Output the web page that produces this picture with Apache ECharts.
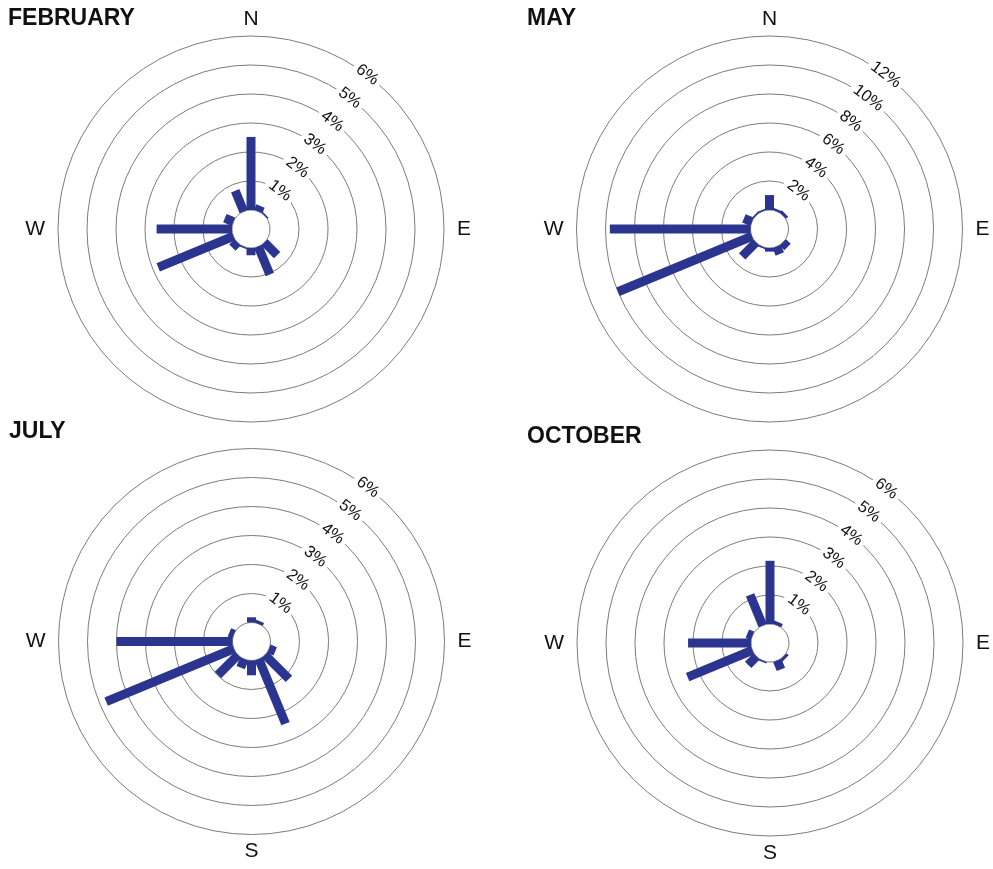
<!DOCTYPE html>
<html>
<head>
<meta charset="utf-8">
<script src="https://cdn.jsdelivr.net/npm/echarts@6/dist/echarts.min.js"></script>
<style>
  html, body { margin: 0; padding: 0; background: #fff; }
  #chart { width: 993px; height: 869px; }
</style>
</head>
<body>
<div id="chart"></div>
<script>
// Sixteen compass directions (degrees clockwise from north)
const directions = ['N','NNE','NE','ENE','E','ESE','SE','SSE','S','SSW','SW','WSW','W','WNW','NW','NNW'];
const directionAngles = [0,22.5,45,67.5,90,112.5,135,157.5,180,202.5,225,247.5,270,292.5,315,337.5];

// Frequency (% of time) the wind blows from each direction
const february = [2.52, 0.20, 0.05, 0, 0, 0, 0.62, 1.04, 0.25, 0.05, 0.25, 2.81, 2.60, 0.32, 0, 0.77];
const may      = [1.03, 0.15, 0.20, 0, 0, 0, 0.45, 0.55, 0.25, 0.10, 1.36, 10.0, 9.70, 0.60, 0.10, 0.10];
const july     = [0.18, 0.10, 0, 0, 0, 0.23, 1.17, 2.41, 0.51, 0.32, 0.98, 4.77, 4.00, 0.17, 0, 0];
const october  = [2.18, 0.12, 0, 0, 0, 0, 0.10, 0.33, 0, 0.05, 0.41, 2.42, 2.17, 0.19, 0, 1.14];

const monthNames = ['FEBRUARY', 'MAY', 'JULY', 'OCTOBER'];
const monthValues = [february, may, july, october];

// Ring scale per panel (percent)
const ringMax  = [6, 12, 6, 6];
const ringStep = [1, 2, 1, 1];

// Compass letters and which ones each panel shows
const compassAngles = [0, 90, 180, 270];
const compassLetters = ['N', 'E', 'S', 'W'];
const shownLetters = [['N','E','W'], ['N','E','W'], ['E','S','W'], ['E','S','W']];

// ---- layout ----
const centers = [[251, 229], [769.5, 229], [251.5, 641.5], [770, 643]];
const INNER = 19, OUTER = 193;
const titlePos = [[8, 7], [527, 7], [9, 420], [527, 425]];
const LABEL_ANGLE = 37;           // tick labels sit 37° clockwise from north
const BAR_COLOR = '#2b3590';
const BAR_HALF = 4.5;
const RING_COLOR = '#7c7c7c';
const FONT = "'Liberation Sans', Arial, Helvetica, sans-serif";

const chart = echarts.init(document.getElementById('chart'), null, { renderer: 'canvas' });

function renderBar(params, api) {
  const v = api.value(0), a = api.value(1);
  if (!v) return null;
  const p0 = api.coord([0, a]);
  const p1 = api.coord([v, a]);
  const dx = p1[0] - p0[0], dy = p1[1] - p0[1];
  const len = Math.hypot(dx, dy) || 1;
  const nx = -dy / len * BAR_HALF, ny = dx / len * BAR_HALF;
  return {
    type: 'polygon',
    shape: { points: [
      [p0[0] + nx, p0[1] + ny], [p1[0] + nx, p1[1] + ny],
      [p1[0] - nx, p1[1] - ny], [p0[0] - nx, p0[1] - ny]
    ] },
    style: { fill: BAR_COLOR }
  };
}

const polar = [], angleAxis = [], radiusAxis = [], series = [], title = [];

monthNames.forEach((name, i) => {
  const c = centers[i];
  // polar used by the bars and compass letters
  polar.push({ center: c, radius: [INNER, OUTER] });
  // polar used by the rings and their percentage labels
  polar.push({ center: c, radius: [INNER, OUTER] });

  const shown = shownLetters[i];
  angleAxis.push({
    polarIndex: 2 * i, type: 'value', min: 0, max: 360, interval: 90,
    startAngle: 90, clockwise: true,
    axisLine: { show: false }, axisTick: { show: false }, splitLine: { show: false },
    axisLabel: {
      show: true, margin: 13, lineHeight: 8, color: '#111', fontSize: 21, fontFamily: FONT,
      formatter: (v) => {
        const k = compassAngles.indexOf(v);
        if (k < 0) return '';
        const letter = compassLetters[k];
        return shown.indexOf(letter) >= 0 ? letter : '';
      }
    }
  });
  angleAxis.push({
    polarIndex: 2 * i + 1, type: 'value', min: 0, max: 360,
    startAngle: 90 - LABEL_ANGLE, clockwise: true, show: false
  });

  radiusAxis.push({
    polarIndex: 2 * i, type: 'value', min: 0, max: ringMax[i], interval: ringStep[i],
    show: false
  });
  radiusAxis.push({
    polarIndex: 2 * i + 1, type: 'value', min: 0, max: ringMax[i], interval: ringStep[i],
    z: 1,
    axisLine: { show: false }, axisTick: { show: false },
    splitLine: { show: true, lineStyle: { color: RING_COLOR, width: 1 } },
    axisLabel: {
      show: true, rotate: -LABEL_ANGLE, margin: 0, align: 'center', verticalAlign: 'middle',
      showMinLabel: false, showMaxLabel: true,
      color: '#111', fontSize: 16.5, fontFamily: FONT,
      backgroundColor: '#fff', padding: [0, 4],
      formatter: (v) => v + '%'
    }
  });

  series.push({
    type: 'custom', coordinateSystem: 'polar', polarIndex: 2 * i,
    z: 5, silent: true, animation: false,
    renderItem: renderBar,
    data: monthValues[i].map((v, k) => [v, directionAngles[k]])
  });

  title.push({
    text: name, left: titlePos[i][0], top: titlePos[i][1], padding: 0,
    textStyle: { fontSize: 23, fontWeight: 'bold', color: '#111', fontFamily: FONT }
  });
});

chart.setOption({
  backgroundColor: '#fff',
  animation: false,
  title, polar, angleAxis, radiusAxis, series
});
</script>
</body>
</html>
